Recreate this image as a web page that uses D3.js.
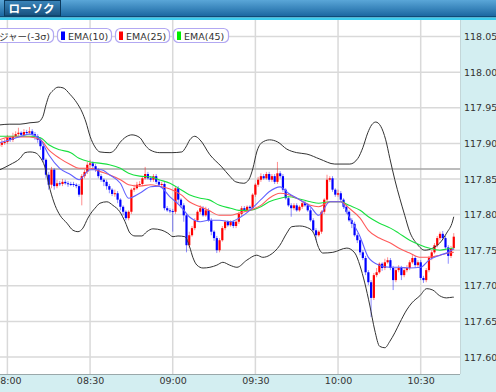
<!DOCTYPE html>
<html>
<head>
<meta charset="utf-8">
<script src="https://cdn.jsdelivr.net/npm/d3@7"></script>
<style>
html, body { margin: 0; padding: 0; background: #d3eef1; overflow: hidden; }
svg { display: block; font-family: "DejaVu Sans", "Noto Sans CJK JP", sans-serif; }
</style>
</head>
<body>
<div id="chart"></div>
<script>
// one-minute candles, first one at 07:57
var startTime = "07:57";
var timeTicks = ["08:00", "08:30", "09:00", "09:30", "10:00", "10:30"];
var priceTicks = [117.60, 117.65, 117.70, 117.75, 117.80, 117.85, 117.90, 117.95, 118.00, 118.05];
var refPrice = 117.864;

var opens = [117.896,117.898,117.901,117.902,117.908,117.905,117.910,117.913,117.915,117.912,
117.916,117.915,117.917,117.913,117.910,117.905,117.896,117.877,117.856,117.842,
117.863,117.840,117.844,117.843,117.846,117.844,117.843,117.843,117.842,117.840,
117.828,117.854,117.860,117.870,117.872,117.868,117.863,117.854,117.849,117.846,
117.840,117.835,117.829,117.830,117.821,117.811,117.804,117.795,117.804,117.835,
117.837,117.842,117.843,117.851,117.857,117.851,117.849,117.854,117.846,117.842,
117.843,117.809,117.806,117.805,117.804,117.837,117.821,117.813,117.799,117.757,
117.771,117.781,117.792,117.804,117.809,117.799,117.806,117.792,117.776,117.767,
117.750,117.764,117.781,117.790,117.785,117.790,117.784,117.790,117.801,117.809,
117.806,117.811,117.809,117.828,117.842,117.849,117.854,117.851,117.857,117.849,
117.854,117.846,117.858,117.854,117.835,117.823,117.813,117.809,117.813,117.806,
117.811,117.816,117.813,117.806,117.792,117.778,117.771,117.776,117.804,117.821,
117.849,117.851,117.835,117.828,117.830,117.821,117.811,117.804,117.792,117.787,
117.771,117.764,117.747,117.739,117.719,117.705,117.683,117.715,117.719,117.731,
117.725,117.733,117.736,117.725,117.708,117.722,117.725,117.715,117.722,117.725,
117.733,117.739,117.729,117.733,117.711,117.708,117.722,117.739,117.747,117.757,
117.767,117.773,117.767,117.754,117.742,117.753];

var highs = [117.902,117.905,117.906,117.912,117.910,117.915,117.917,117.922,117.917,117.920,
117.919,117.923,117.920,117.916,117.913,117.908,117.899,117.879,117.860,117.867,
117.865,117.849,117.847,117.850,117.849,117.847,117.846,117.846,117.844,117.843,
117.857,117.863,117.874,117.877,117.875,117.871,117.865,117.857,117.851,117.849,
117.843,117.837,117.835,117.833,117.823,117.813,117.806,117.806,117.837,117.842,
117.846,117.847,117.854,117.867,117.860,117.854,117.857,117.857,117.849,117.846,
117.846,117.812,117.809,117.808,117.840,117.840,117.823,117.816,117.802,117.776,
117.784,117.795,117.806,117.813,117.812,117.811,117.809,117.795,117.778,117.770,
117.767,117.784,117.792,117.792,117.792,117.792,117.792,117.804,117.812,117.812,
117.813,117.813,117.830,117.844,117.853,117.858,117.857,117.860,117.860,117.857,
117.857,117.874,117.861,117.857,117.837,117.826,117.816,117.816,117.816,117.813,
117.819,117.819,117.816,117.809,117.795,117.781,117.778,117.806,117.823,117.856,
117.854,117.854,117.837,117.835,117.833,117.823,117.813,117.806,117.795,117.790,
117.774,117.767,117.750,117.742,117.722,117.708,117.718,117.725,117.733,117.733,
117.738,117.740,117.739,117.728,117.725,117.729,117.728,117.725,117.729,117.736,
117.743,117.742,117.736,117.736,117.714,117.725,117.742,117.750,117.760,117.770,
117.776,117.777,117.770,117.757,117.756,117.774];

var lows = [117.894,117.895,117.898,117.899,117.902,117.902,117.908,117.910,117.909,117.909,
117.912,117.912,117.910,117.905,117.901,117.891,117.874,117.851,117.835,117.837,
117.835,117.837,117.840,117.840,117.842,117.839,117.840,117.839,117.837,117.825,
117.813,117.851,117.857,117.867,117.863,117.860,117.851,117.846,117.840,117.835,
117.830,117.826,117.825,117.816,117.806,117.799,117.792,117.792,117.801,117.832,
117.835,117.839,117.840,117.849,117.849,117.846,117.846,117.843,117.839,117.839,
117.806,117.804,117.802,117.776,117.801,117.816,117.809,117.790,117.747,117.753,
117.769,117.778,117.790,117.801,117.797,117.797,117.790,117.771,117.763,117.746,
117.747,117.762,117.778,117.783,117.783,117.781,117.781,117.787,117.798,117.804,
117.804,117.806,117.806,117.825,117.839,117.846,117.849,117.849,117.846,117.846,
117.843,117.843,117.851,117.832,117.821,117.811,117.797,117.806,117.804,117.804,
117.808,117.811,117.804,117.790,117.776,117.764,117.769,117.773,117.801,117.818,
117.846,117.832,117.825,117.825,117.818,117.808,117.801,117.790,117.781,117.769,
117.760,117.743,117.736,117.715,117.701,117.656,117.680,117.712,117.717,117.721,
117.722,117.731,117.722,117.694,117.705,117.719,117.708,117.712,117.719,117.722,
117.731,117.725,117.726,117.708,117.704,117.705,117.719,117.736,117.745,117.754,
117.764,117.764,117.752,117.731,117.739,117.750];

var closes = [117.898,117.901,117.902,117.908,117.905,117.910,117.913,117.915,117.912,117.916,
117.915,117.917,117.913,117.910,117.905,117.896,117.877,117.856,117.842,117.863,
117.840,117.844,117.843,117.846,117.844,117.843,117.843,117.842,117.840,117.828,
117.854,117.860,117.870,117.872,117.868,117.863,117.854,117.849,117.846,117.840,
117.835,117.829,117.830,117.821,117.811,117.804,117.795,117.804,117.835,117.837,
117.842,117.843,117.851,117.857,117.851,117.849,117.854,117.846,117.842,117.843,
117.809,117.806,117.805,117.804,117.837,117.821,117.813,117.799,117.757,117.771,
117.781,117.792,117.804,117.809,117.799,117.806,117.792,117.776,117.767,117.750,
117.764,117.781,117.790,117.785,117.790,117.784,117.790,117.801,117.809,117.806,
117.811,117.809,117.828,117.842,117.849,117.854,117.851,117.857,117.849,117.854,
117.846,117.858,117.854,117.835,117.823,117.813,117.809,117.813,117.806,117.811,
117.816,117.813,117.806,117.792,117.778,117.771,117.776,117.804,117.821,117.849,
117.851,117.835,117.828,117.830,117.821,117.811,117.804,117.792,117.787,117.771,
117.764,117.747,117.739,117.719,117.705,117.683,117.715,117.719,117.731,117.725,
117.733,117.736,117.725,117.708,117.722,117.725,117.715,117.722,117.725,117.733,
117.739,117.729,117.733,117.711,117.708,117.722,117.739,117.747,117.757,117.767,
117.773,117.767,117.754,117.742,117.753,117.769];

// moving averages (minutes after the first candle)
var emaTimes = [0,4,8,11,15,18,22,26,29,33,37,40,44,47,51,55,58,62,66,69,73,76,80,84,87,
  91,95,98,102,105,109,113,116,120,124,127,131,134,138,142,145,149,153,156,160,163,165];
var ema10 = [117.901,117.905,117.910,117.913,117.905,117.884,117.865,117.856,117.849,117.863,
  117.863,117.856,117.844,117.823,117.830,117.839,117.840,117.825,117.811,117.797,
  117.790,117.792,117.792,117.790,117.795,117.806,117.821,117.832,117.839,117.830,
  117.821,117.811,117.799,117.818,117.818,117.797,117.769,117.740,117.729,117.726,
  117.726,117.725,117.726,117.736,117.743,117.747,117.752];
var ema25 = [117.905,117.909,117.909,117.909,117.905,117.891,117.879,117.870,117.865,117.865,
  117.860,117.856,117.849,117.842,117.840,117.842,117.840,117.836,117.828,117.818,
  117.811,117.806,117.799,117.799,117.802,117.806,117.813,117.823,117.830,117.828,
  117.821,117.813,117.811,117.818,117.818,117.809,117.795,117.778,117.767,117.760,
  117.753,117.746,117.740,117.740,117.743,117.746,117.747];
var ema45 = [117.910,117.910,117.910,117.910,117.908,117.898,117.891,117.887,117.879,117.874,
  117.872,117.870,117.865,117.858,117.854,117.853,117.849,117.844,117.835,117.828,
  117.823,117.821,117.813,117.809,117.806,117.806,117.811,117.818,117.823,117.825,
  117.822,117.818,117.816,117.818,117.818,117.813,117.806,117.797,117.788,117.781,
  117.774,117.764,117.757,117.753,117.750,117.752,117.753];

// bollinger +-3 sigma
var upperTimes = [0.3,3.9,7.6,11.2,14.1,15.9,17.0,18.1,19.5,21.4,23.2,25.7,28.2,30.1,31.5,33.0,34.8,
  36.6,40.2,42.0,43.8,46.0,48.2,51.1,52.9,54.7,58.3,62.7,66.3,67.8,69.2,71.0,72.9,76.5,80.8,
  83.7,85.9,88.8,90.6,92.1,93.5,95.3,98.2,101.1,104.4,108.0,111.7,116.4,121.8,127.3,130.2,
  132.0,133.8,135.2,136.7,138.5,140.3,141.8,143.6,145.4,147.2,149.0,151.6,154.5,157.4,159.9,
  162.4,164.6,165];
var upperBand = [117.926,117.927,117.927,117.929,117.930,117.938,117.954,117.967,117.974,117.979,
  117.978,117.969,117.957,117.944,117.930,117.910,117.895,117.888,117.887,117.891,117.901,
  117.909,117.912,117.908,117.898,117.891,117.887,117.887,117.888,117.895,117.905,117.910,
  117.905,117.884,117.867,117.854,117.846,117.844,117.849,117.865,117.888,117.901,117.905,
  117.902,117.892,117.887,117.885,117.878,117.871,117.871,117.879,117.894,117.915,117.926,
  117.930,117.924,117.905,117.879,117.849,117.823,117.799,117.776,117.759,117.750,117.753,
  117.760,117.774,117.791,117.797];
var lowerTimes = [0.3,3.9,7.6,9.4,11.2,13.0,14.8,16.6,18.5,20.3,22.1,24.6,26.8,28.6,30.4,32.2,33.7,
  34.8,36.6,39.1,41.3,43.8,45.7,47.5,49.3,51.8,53.6,55.8,59.1,61.2,63.1,64.9,67.4,69.2,70.3,
  71.8,74.0,76.5,79.0,81.2,83.7,86.3,89.9,93.5,95.7,98.2,101.9,104.4,106.2,109.1,112.8,114.6,
  115.7,117.5,121.1,126.2,129.1,130.9,132.7,134.5,136.3,138.1,140.0,141.8,143.6,145.4,147.9,
  149.8,152.7,155.2,157.4,159.9,162.4,164.6,165];
var lowerBand = [117.863,117.870,117.879,117.887,117.888,117.887,117.881,117.867,117.835,117.813,
  117.799,117.788,117.778,117.776,117.781,117.795,117.804,117.809,117.816,117.818,117.813,
  117.804,117.790,117.774,117.770,117.770,117.776,117.780,117.778,117.774,117.769,117.770,
  117.769,117.754,117.740,117.729,117.725,117.726,117.729,117.733,117.729,117.726,117.736,
  117.743,117.740,117.743,117.757,117.774,117.783,117.784,117.780,117.770,117.756,117.746,
  117.747,117.753,117.746,117.729,117.704,117.673,117.638,117.615,117.613,117.622,117.634,
  117.648,117.666,117.676,117.686,117.696,117.694,117.686,117.683,117.684,117.684];

var legendNames = ["ボリンジャー(-3σ)", "EMA(10)", "EMA(25)", "EMA(45)"];
var legendColors = [null, "#0000ff", "#ff0000", "#00ee00"];

var width = 496, height = 392;
var plotLeft = 0, plotRight = 460, plotTop = 20, plotBottom = 374;

var parseTime = d3.timeParse("%H:%M");
var t0 = parseTime(startTime);
function timeAt(m) { return new Date(t0.getTime() + m * 60000); }

var x = d3.scaleTime()
	.domain([parseTime(timeTicks[0]), parseTime(timeTicks[timeTicks.length - 1])])
	.range([7.4, 420.7]);
var y = d3.scaleLinear()
	.domain([priceTicks[0], priceTicks[priceTicks.length - 1]])
	.range([357, 36.6]);

var svg = d3.select('#chart').append('svg')
	.attr('width', width)
	.attr('height', height);

var defs = svg.append('defs');
var hg = defs.append('linearGradient').attr('id', 'head').attr('x1', 0).attr('y1', 0).attr('x2', 0).attr('y2', 1);
hg.append('stop').attr('offset', '0%').attr('stop-color', '#5aa6d8');
hg.append('stop').attr('offset', '100%').attr('stop-color', '#1c68a2');
var tg = defs.append('linearGradient').attr('id', 'tab').attr('x1', 0).attr('y1', 0).attr('x2', 0).attr('y2', 1);
tg.append('stop').attr('offset', '0%').attr('stop-color', '#3b86bb');
tg.append('stop').attr('offset', '100%').attr('stop-color', '#174f7d');
defs.append('clipPath').attr('id', 'plotclip')
	.append('rect')
	.attr('x', plotLeft).attr('y', plotTop)
	.attr('width', plotRight - plotLeft).attr('height', plotBottom - plotTop);

// header
svg.append('rect').attr('x', 0).attr('y', 0).attr('width', width).attr('height', 16).attr('fill', 'url(#head)');
svg.append('rect').attr('x', 0).attr('y', 16).attr('width', width).attr('height', 1.5).attr('fill', '#0e4a78');
svg.append('rect').attr('x', 0).attr('y', 17.5).attr('width', width).attr('height', 2.5).attr('fill', '#3ccbee');
svg.append('rect')
	.attr('x', 4.5).attr('y', 0.5).attr('width', 56).attr('height', 15.5)
	.attr('fill', 'url(#tab)').attr('stroke', '#0b3a5e');
svg.append('text')
	.attr('x', 8.5).attr('y', 12.5)
	.attr('fill', '#fff')
	.style('font-family', '"Noto Sans CJK JP", sans-serif')
	.style('font-size', '11.5px')
	.style('font-weight', 'bold')
	.text('ローソク');

// plot background
svg.append('rect')
	.attr('x', plotLeft).attr('y', plotTop)
	.attr('width', plotRight - plotLeft).attr('height', plotBottom - plotTop)
	.attr('fill', '#fff');

var plot = svg.append('g').attr('clip-path', 'url(#plotclip)');

// grid
plot.selectAll('.hgrid').data(priceTicks).enter().append('line')
	.attr('class', 'hgrid')
	.attr('x1', plotLeft).attr('x2', plotRight)
	.attr('y1', function(d) { return y(d); }).attr('y2', function(d) { return y(d); })
	.attr('stroke', '#d9d9d9').attr('stroke-width', 1.5);
plot.selectAll('.vgrid').data(timeTicks).enter().append('line')
	.attr('class', 'vgrid')
	.attr('x1', function(d) { return x(parseTime(d)); }).attr('x2', function(d) { return x(parseTime(d)); })
	.attr('y1', plotTop).attr('y2', plotBottom)
	.attr('stroke', '#d9d9d9').attr('stroke-width', 1.5);
plot.append('line')
	.attr('x1', plotLeft).attr('x2', plotRight)
	.attr('y1', y(refPrice)).attr('y2', y(refPrice))
	.attr('stroke', '#a6a6a6').attr('stroke-width', 1.5);

// candles
var candles = closes.map(function(c, i) {
	return { t: timeAt(i), o: opens[i], h: highs[i], l: lows[i], c: c };
});
function candleColor(d) { return d.c > d.o ? '#ff0000' : '#0000ff'; }

var cg = plot.selectAll('.candle').data(candles).enter().append('g').attr('class', 'candle');
cg.append('line')
	.attr('x1', function(d) { return x(d.t); }).attr('x2', function(d) { return x(d.t); })
	.attr('y1', function(d) { return y(d.h); }).attr('y2', function(d) { return y(d.l); })
	.attr('stroke', candleColor).attr('stroke-opacity', 0.45).attr('stroke-width', 1);
cg.append('rect')
	.attr('x', function(d) { return x(d.t) - 1.1; })
	.attr('width', 2.2)
	.attr('y', function(d) { return y(Math.max(d.o, d.c)); })
	.attr('height', function(d) { return Math.max(1, Math.abs(y(d.o) - y(d.c))); })
	.attr('fill', candleColor);

// indicator lines
var line = d3.line()
	.x(function(d) { return x(timeAt(d[0])); })
	.y(function(d) { return y(d[1]); })
	.curve(d3.curveMonotoneX);

plot.append('path').datum(d3.zip(upperTimes, upperBand))
	.attr('d', line).attr('fill', 'none').attr('stroke', '#333').attr('stroke-width', 1);
plot.append('path').datum(d3.zip(lowerTimes, lowerBand))
	.attr('d', line).attr('fill', 'none').attr('stroke', '#333').attr('stroke-width', 1);
plot.append('path').datum(d3.zip(emaTimes, ema45))
	.attr('d', line).attr('fill', 'none').attr('stroke', '#19e040').attr('stroke-width', 1.1);
plot.append('path').datum(d3.zip(emaTimes, ema25))
	.attr('d', line).attr('fill', 'none').attr('stroke', '#ff5a5a').attr('stroke-width', 1.1);
plot.append('path').datum(d3.zip(emaTimes, ema10))
	.attr('d', line).attr('fill', 'none').attr('stroke', '#6262ff').attr('stroke-width', 1.1);

// plot frame
svg.append('line').attr('x1', plotLeft).attr('x2', plotRight).attr('y1', plotBottom + 0.5).attr('y2', plotBottom + 0.5)
	.attr('stroke', '#9aa8aa').attr('stroke-width', 1);
svg.append('line').attr('x1', plotRight + 0.5).attr('x2', plotRight + 0.5).attr('y1', plotTop).attr('y2', plotBottom)
	.attr('stroke', '#c4d6d8').attr('stroke-width', 1);

// axes
var yAxis = d3.axisRight(y).tickValues(priceTicks).tickSize(0).tickPadding(4).tickFormat(d3.format('.2f'));
var ya = svg.append('g').attr('transform', 'translate(' + plotRight + ',0)').call(yAxis);
var xAxis = d3.axisBottom(x).tickValues(timeTicks.map(parseTime)).tickSize(0).tickPadding(3).tickFormat(d3.timeFormat('%H:%M'));
var xa = svg.append('g').attr('transform', 'translate(0,' + plotBottom + ')').call(xAxis);
[ya, xa].forEach(function(a) {
	a.select('.domain').remove();
	a.selectAll('text')
		.attr('fill', '#333')
		.style('font-family', '"DejaVu Sans", sans-serif')
		.style('font-size', '9.5px');
});

// legend
var legendBoxes = [[-20, 53], [57, 111], [115, 169], [173, 228]];
var lg = svg.append('g');
legendNames.forEach(function(name, i) {
	var b = legendBoxes[i];
	lg.append('rect')
		.attr('x', b[0] + 0.5).attr('y', 28.5).attr('width', b[1] - b[0]).attr('height', 14)
		.attr('rx', 5).attr('ry', 5)
		.attr('fill', '#fff').attr('stroke', '#b2a8f2').attr('stroke-width', 1.2);
	if (legendColors[i]) {
		lg.append('rect')
			.attr('x', b[0] + 4).attr('y', 31.5).attr('width', 4).attr('height', 8.5)
			.attr('fill', legendColors[i]);
		lg.append('text')
			.attr('x', b[0] + 11).attr('y', 39.5)
			.attr('fill', '#333').style('font-size', '9.5px')
			.text(name);
	} else {
		lg.append('text')
			.attr('x', b[1] - 3).attr('y', 39.5)
			.attr('text-anchor', 'end')
			.attr('fill', '#333').style('font-size', '9.5px')
			.text(name);
	}
});
</script>
</body>
</html>
